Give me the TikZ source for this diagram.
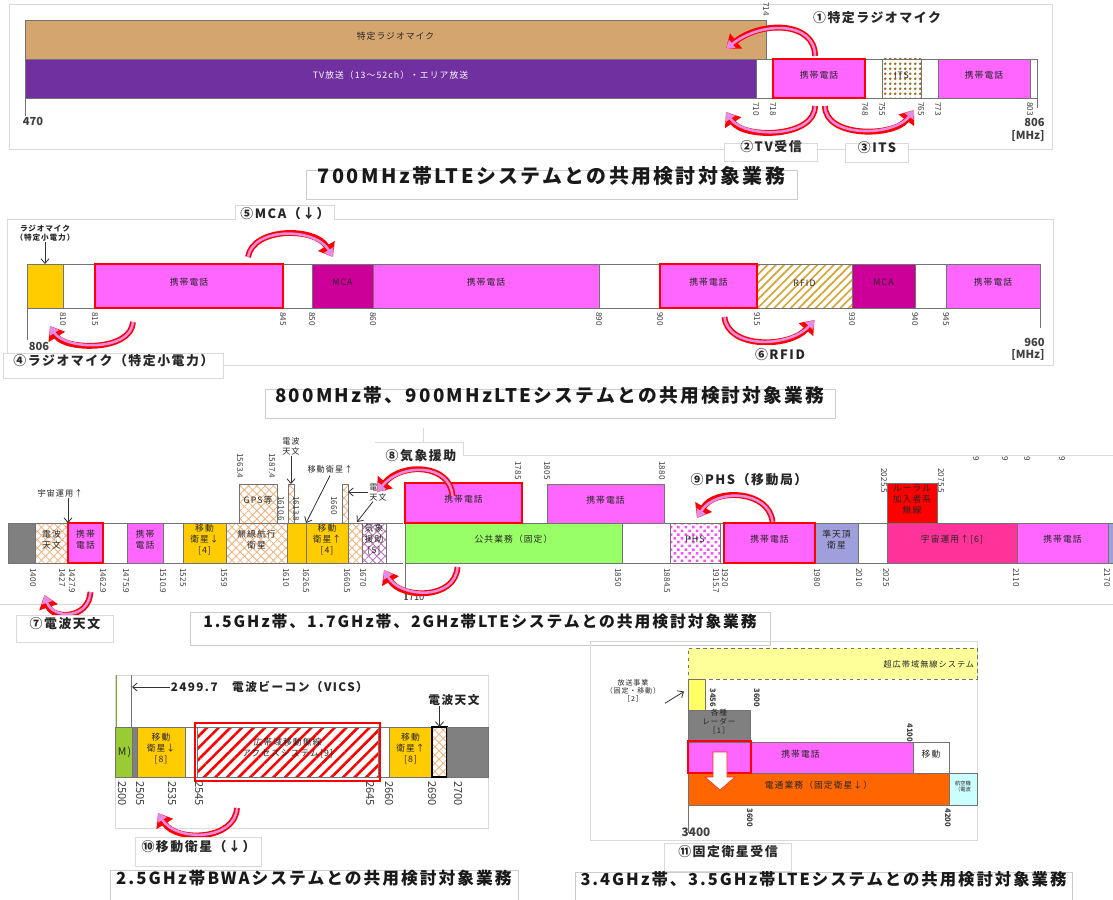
\documentclass[tikz,border=0pt]{standalone}
\usepackage{fontspec}
\setmainfont{Noto Sans CJK JP}
\setsansfont{Noto Sans CJK JP}
\newfontfamily\spaced[LetterSpace=12]{Noto Sans CJK JP}
\usetikzlibrary{arrows.meta, patterns.meta, fit, calc}
\definecolor{phonepink}{HTML}{FF66FF}
\definecolor{mcamag}{HTML}{CC0099}
\definecolor{micbrown}{HTML}{D4A56F}
\definecolor{tvpurple}{HTML}{7030A0}
\definecolor{satyellow}{HTML}{FFCC00}
\definecolor{pubgreen}{HTML}{99FF66}
\definecolor{qzslav}{HTML}{9F9FDC}
\definecolor{spacepink}{HTML}{FF3399}
\definecolor{fssorange}{HTML}{FF6600}
\definecolor{bandgray}{HTML}{808080}
\definecolor{uwbyellow}{HTML}{FFFF99}
\definecolor{bcyellow}{HTML}{FFFF66}
\definecolor{aerocyan}{HTML}{CCFFFF}
\definecolor{bwagreen}{HTML}{99CC33}
\definecolor{crossorange}{HTML}{F2B27A}
\definecolor{itsbrown}{HTML}{9C6B1E}
\definecolor{rfidgold}{HTML}{D4A530}
\definecolor{arcpink}{HTML}{E58AE5}
\tikzset{
  band/.style={draw=black!55, line width=0.5pt, inner sep=0pt, outer sep=0pt, align=center,
    text=black!85, font=\spaced\fontsize{7.5}{9.5}\selectfont},
  phone/.style={band, fill=phonepink},
  crossband/.style={band, preaction={fill=white}, pattern={Hatch[angle=45,distance=5pt,line width=0.7pt]}, pattern color=crossorange},
  wxband/.style={band, preaction={fill=white}, pattern={Hatch[angle=45,distance=5pt,line width=0.7pt]}, pattern color=violet!55},
  itsband/.style={band, preaction={fill=white}, pattern={Dots[distance=4pt,radius=1.3pt]}, pattern color=itsbrown},
  phsband/.style={band, preaction={fill=white}, pattern={Dots[angle=45,distance=4.5pt,radius=1.5pt]}, pattern color=magenta!70},
  rfidband/.style={band, preaction={fill=white}, pattern={Lines[angle=45,distance=5pt,line width=1.4pt]}, pattern color=rfidgold},
  bwaband/.style={band, preaction={fill=white}, pattern={Lines[angle=45,distance=7pt,line width=2.2pt]}, pattern color=red},
  redframe/.style={draw=red, line width=2.2pt},
  tick/.style={rotate=-90, anchor=west, inner sep=1pt, text=black!75, font=\fontsize{7}{7}\selectfont},
  axisline/.style={draw=black!55, line width=0.8pt},
  axlabel/.style={inner sep=1pt, text=black!75, font=\bfseries\fontsize{9.5}{10}\selectfont},
  panelline/.style={draw=black!15, line width=0.6pt},
  callout/.style={inner sep=1pt, text=black!85, font=\spaced\bfseries\fontsize{11}{12}\selectfont},
  tabbox/.style={callout, draw=black!15, fill=white, line width=0.6pt},
  titlebox/.style={draw=black!20, fill=white, line width=0.6pt, inner sep=0pt, text=black!90,
    font=\spaced\bfseries\fontsize{#1}{#1}\selectfont},
  titlebox/.default=15.5,
  note/.style={inner sep=0.5pt, align=center, text=black!85, font=\spaced\fontsize{7}{8.5}\selectfont},
  pointer/.style={draw=black!80, line width=0.7pt, -{Straight Barb[length=4pt,width=7pt]}},
  redarc/.style={draw=arcpink, line width=2.2pt, -{Triangle[length=7pt,width=9pt]},
    preaction={draw=red, line width=5pt, -{Triangle[length=11pt,width=16pt]}}},
}
\begin{document}
\begin{tikzpicture}[x=0.03cm, y=-0.03cm]
  \useasboundingbox (0,0) rectangle (1113,900);
  \fill[white] (0,0) rectangle (1113,900);

  % ---- 700MHz ----
  \draw[panelline] (9,4) rectangle (1052,149);
  \node[band, fill=micbrown, fit={(25,20) (766,59)}] (rmic) {特定ラジオマイク};
  \node[band, fill=tvpurple, text=white, fit={(25,59) (756,98)}] (tv) {TV放送（13～52ch）・エリア放送};
  \node[band, fill=white, fit={(756,59) (773,98)}] (w710) {};
  \node[phone, fit={(773,59) (865,98)}] (p718) {携帯電話};
  \node[band, fill=white, fit={(865,59) (882,98)}] (w748) {};
  \node[itsband, fit={(882,59) (921,98)}] (its) {ITS};
  \node[band, fill=white, fit={(921,59) (938,98)}] (w765) {};
  \node[phone, fit={(938,59) (1030,98)}] (p773) {携帯電話};
  \node[band, fill=white, fit={(1030,59) (1037,98)}] (w803) {};
  \draw[redframe] (p718.south west) rectangle (p718.north east);
  \draw[axisline] (tv.south west) -- ++(0,18);
  \draw[axisline] (w803.south east) -- ++(0,10);
  \node[tick] (ta0) at (766,1) {714};
  \foreach \x/\f [count=\i] in {756/710, 773/718, 865/748, 882/755, 921/765, 938/773, 1030/803}
    \node[tick] (ta\i) at (\x,101) {\f};
  \node[axlabel] (f470) at (33,121) {470};
  \node[axlabel, anchor=east] (f806) at (1046,122) {806};
  \node[axlabel, anchor=east] (mhza) at (1046,136) {[MHz]};

  \draw[redarc] ($(p718.north)+(-4,-3)$) .. controls +(0,-35) and +(35,-28) .. ($(rmic.south east)+(-40,-10)$);
  \draw[redarc] ($(p718.south)+(-4,8)$) .. controls +(0,32) and +(18,27) .. ($(tv.south east)+(-30,14)$);
  \draw[redarc] ($(p718.south)+(6,8)$) .. controls +(0,32) and +(-20,27) .. ($(w765.south west)+(-7,12)$);
  \node[callout] (c1) at (877,18) {①特定ラジオマイク};
  \node[tabbox, fit={(726,145) (816,160)}] (c2) {②TV受信};
  \node[tabbox, fit={(847,145) (907,161)}] (c3) {③ITS};
  \node[titlebox=17, fit={(306,170) (797,199)}] (ttla) {700MHz帯LTEシステムとの共用検討対象業務};

  % ---- 800/900MHz ----
  \draw[panelline] (7,355) -- (7,219) -- (235,219) -- (235,205) -- (334,205) -- (334,219) -- (1053,219) -- (1053,365) -- (222,365);
  \node[band, fill=satyellow, fit={(27,264) (63,308)}] (rm806) {};
  \node[band, fill=white, fit={(63,264) (95,308)}] (w810) {};
  \node[phone, fit={(95,264) (283,308)}] (p815) {携帯電話};
  \node[band, fill=white, fit={(283,264) (312,308)}] (w845) {};
  \node[band, fill=mcamag, fit={(312,264) (373,308)}] (mca850) {MCA};
  \node[phone, fit={(373,264) (599,308)}] (p860) {携帯電話};
  \node[band, fill=white, fit={(599,264) (660,308)}] (w890) {};
  \node[phone, fit={(660,264) (757,308)}] (p900) {携帯電話};
  \node[rfidband, fit={(757,264) (852,308)}] (rfid) {RFID};
  \node[band, fill=mcamag, fit={(852,264) (915,308)}] (mca930) {MCA};
  \node[band, fill=white, fit={(915,264) (946,308)}] (w940) {};
  \node[phone, fit={(946,264) (1040,308)}] (p945) {携帯電話};
  \draw[redframe] (p815.south west) rectangle (p815.north east);
  \draw[redframe] (p900.south west) rectangle (p900.north east);
  \draw[axisline] (rm806.south west) -- ++(0,32);
  \draw[axisline] (p945.south east) -- ++(0,20);
  \foreach \x/\f [count=\i] in {63/810, 95/815, 283/845, 312/850, 373/860, 599/890, 660/900, 757/915, 852/930, 915/940, 946/945}
    \node[tick] (tb\i) at (\x,311) {\f};
  \node[axlabel] (f806b) at (39,346) {806};
  \node[axlabel, anchor=east] (f960) at (1046,342) {960};
  \node[axlabel, anchor=east] (mhzb) at (1046,355) {[MHz]};
  \node[note, font=\spaced\bfseries\fontsize{6.5}{8}\selectfont] (rmlbl) at (45,233) {ラジオマイク\\（特定小電力）};
  \draw[pointer] (rmlbl.south) -- (rmlbl.south |- rm806.north);

  \draw[redarc] ($(p815.north)+(59,-7)$) .. controls +(5,-30) and +(-18,-30) .. ($(mca850.north west)+(21,-7)$);
  \draw[redarc] ($(p815.south)+(-56,14)$) .. controls +(-2,30) and +(15,24) .. ($(rm806.south)+(5,18)$);
  \draw[redarc] ($(p900.south)+(16,9)$) .. controls +(3,32) and +(-25,28) .. ($(rfid.south)+(10,12)$);
  \node[callout] (c5) at (285,214) {⑤MCA（↓）};
  \node[tabbox, fit={(5,355) (222,377)}] (c4) {④ラジオマイク（特定小電力）};
  \node[callout, fill=white, inner sep=3pt] (c6) at (780,355) {⑥RFID};
  \node[titlebox=16, fit={(265,389) (835,418)}] (ttlb) {800MHz帯、900MHzLTEシステムとの共用検討対象業務};

  % ---- 1.5/1.7/2GHz ----
  \draw[panelline] (423,428) -- (423,442);
  \draw[panelline] (375,442) -- (463,442) -- (463,455) -- (1113,455);
  \draw[panelline] (0,604) -- (1113,604);
  \node[band, fill=bandgray, fit={(8,523) (35,563)}] (g1400) {};
  \node[crossband, fit={(35,523) (68,563)}] (ra1400) {電波\\天文};
  \node[phone, fit={(68,523) (103,563)}] (p1427) {携帯\\電話};
  \node[band, fill=white, fit={(103,523) (127,563)}] (w1462) {};
  \node[phone, fit={(127,523) (163,563)}] (p1475) {携帯\\電話};
  \node[band, fill=white, fit={(163,523) (183,563)}] (w1510) {};
  \node[band, fill=satyellow, fit={(183,523) (226,563)}] (ms1525) {移動\\衛星↓\\{[4]}};
  \node[crossband, fit={(226,523) (287,563)}] (rn1559) {無線航行\\衛星};
  \node[band, fill=satyellow, fit={(287,523) (306,563)}] (y1610) {};
  \node[band, fill=satyellow, fit={(306,523) (348,563)}] (ms1626) {移動\\衛星↑\\{[4]}};
  \node[crossband, fit={(348,523) (362,563)}] (ra1660) {};
  \node[wxband, fit={(362,523) (386,563)}] (met1670) {気象\\援助\\{[5]}};
  \draw[band] (met1670.north east) -- ++(17,0);
  \draw[band] (met1670.south east) -- ++(17,0);
  \node[crossband, fit={(239,484) (277,523)}] (gps) {GPS等};
  \node[crossband, fit={(288,484) (294,523)}] (ra1610) {};
  \node[crossband, fit={(342,484) (348,523)}] (ra1660u) {};
  \node[phone, fit={(405,483) (522,523)}] (p1710u) {携帯電話};
  \node[phone, fit={(547,484) (664,523)}] (p1805u) {携帯電話};
  \node[band, fill=pubgreen, fit={(405,523) (622,563)}] (pub1710) {公共業務（固定）};
  \node[band, fill=white, fit={(622,523) (670,563)}] (w1850) {};
  \node[phsband, fit={(670,523) (720,563)}] (phs) {PHS};
  \node[band, fill=white, fit={(720,523) (724,563)}] (w1915) {};
  \node[phone, fit={(724,523) (815,563)}] (p1920) {携帯電話};
  \node[band, fill=qzslav, fit={(815,523) (858,563)}] (qzs) {準天頂\\衛星};
  \node[band, fill=white, fit={(858,523) (887,563)}] (w2010) {};
  \node[band, fill=spacepink, fit={(887,523) (1017,563)}] (sp2025) {宇宙運用↑[6]};
  \node[phone, fit={(1017,523) (1108,563)}] (p2110) {携帯電話};
  \node[band, fill=qzslav, fit={(1108,523) (1113,563)}] (q2170) {};
  \node[band, fill=red, fit={(887,483) (937,523)}] (rural) {ルーラル\\加入者系\\無線};
  \draw[redframe] (p1427.south west) rectangle (p1427.north east);
  \draw[redframe] (p1710u.south west) rectangle (p1710u.north east);
  \draw[redframe] (p1920.south west) rectangle (p1920.north east);
  \draw[axisline] (pub1710.south west) -- ++(0,36);
  \foreach \x/\f [count=\i] in {33/1400, 62/1427, 72/1427.9, 103/1462.9, 126/1475.9, 163/1510.9, 183/1525, 224/1559, 286/1610, 306/1626.5, 347/1660.5, 363/1670, 618/1850, 667/1884.5, 716/1915.7, 725/1920, 817/1980, 859/2010, 886/2025, 1016/2110, 1107/2170}
    \node[tick] (tc\i) at (\x,567) {\f};
  \foreach \x/\y/\f [count=\i] in {240/452/1563.4, 272/452/1587.4, 281/495/1610.6, 296/495/1613.8, 334/495/1660, 518/460/1785, 547/460/1805, 662/460/1880, 884/467/2025.5, 941/467/2075.5, 976/455/9, 1005/455/9, 1027/455/9, 1062/455/9}
    \node[tick] (td\i) at (\x,\y) {\f};
  \node[note, font=\fontsize{8}{8}\selectfont] (f1710) at (414,597) {1710};
  \node[note] (ralbl) at (291,446) {電波\\天文};
  \draw[pointer] (ralbl.south) -- (ralbl.south |- ra1610.north);
  \node[note] (msulbl) at (330,469) {移動衛星↑};
  \draw[pointer] ($(msulbl.south)+(0,2)$) -- (ms1626.north west);
  \node[note] (rablb) at (378,492) {電波\\天文};
  \draw[pointer] (rablb.west) -- (ra1660u.east |- rablb.west);
  \draw[pointer] ($(rablb.south)+(-5,0)$) -- ($(ra1660.north)+(2,-1)$);
  \node[note] (splbl) at (60,493) {宇宙運用↑};
  \draw[pointer] (splbl.south -| p1427.north west) -- (p1427.north west);

  \draw[redarc] ($(p1427.south)+(5,29)$) .. controls +(-2,28) and +(8,24) .. ($(ra1400.south)+(-7,32)$);
  \draw[redarc] ($(p1710u.north)+(-11,13)$) .. controls +(-2,-32) and +(25,-30) .. ($(met1670.north)+(3,-31)$);
  \draw[redarc] ($(pub1710.south)+(-56,4)$) .. controls +(-2,33) and +(17,29) .. ($(met1670.south east)+(-2,7)$);
  \draw[redarc] ($(p1920.north)+(3,-1)$) .. controls +(-3,-32) and +(18,-30) .. ($(phs.north)+(2,-5)$);
  \node[callout, fill=white, inner sep=2pt] (c8) at (421,456) {⑧気象援助};
  \node[callout] (c9) at (749,480) {⑨PHS（移動局）};
  \node[tabbox, fit={(18,617) (112,641)}] (c7) {⑦電波天文};
  \node[titlebox=13.5, fit={(190,612) (770,645)}] (ttlc) {1.5GHz帯、1.7GHz帯、2GHz帯LTEシステムとの共用検討対象業務};

  % ---- 2.5GHz ----
  \draw[panelline] (115,675) rectangle (488,828);
  \draw[draw=bwagreen!80!black, line width=0.8pt] (116,675) -- (116,727);
  \draw[axisline] (131,675) -- (131,727);
  \begin{scope}[every node/.append style={font=\spaced\fontsize{10}{12}\selectfont}]
    \node[band, fill=bwagreen, fit={(115,727) (132,777)}] (gr2500) {};
    \node[band, fill=bandgray, fit={(132,727) (137,777)}] (gl2505) {};
    \node[band, fill=satyellow, fit={(137,727) (185,777)}] (ms2505) {移動\\衛星↓\\{[8]}};
    \node[band, fill=white, fit={(185,727) (197,777)}] (w2535) {};
    \node[bwaband, fit={(197,727) (378,777)}] (bwa) {広帯域移動無線\\アクセスシステム[9]};
    \node[band, fill=white, fit={(378,727) (389,777)}] (w2645) {};
    \node[band, fill=satyellow, fit={(389,727) (432,777)}] (ms2660) {移動\\衛星↑\\{[8]}};
    \node[crossband, line width=1.2pt, draw=black, fit={(432,727) (447,777)}] (ra2690) {};
    \node[band, fill=bandgray, fit={(447,727) (488,777)}] (g2700) {};
  \end{scope}
  \node[note, anchor=east, font=\spaced\fontsize{9}{9}\selectfont] (gtxt) at (gr2500.east) {M)};
  \draw[redframe] ($(bwa.south west)+(-2,4)$) rectangle ($(bwa.north east)+(2,-4)$);
  \foreach \x/\f [count=\i] in {122/2500, 140/2505, 172/2535, 199/2545, 370/2645, 389/2660, 432/2690, 458/2700}
    \node[tick, font=\fontsize{9.5}{9.5}\selectfont] (te\i) at (\x,780) {\f};
  \coordinate (vics) at (132,687);
  \node[note, anchor=west, font=\spaced\bfseries\fontsize{10}{10}\selectfont] (vicslbl) at (170,687) {2499.7　電波ビーコン（VICS）};
  \draw[pointer] (vicslbl.west) -- (vics);
  \node[note, font=\spaced\bfseries\fontsize{10}{10}\selectfont] (ra25lbl) at (454,700) {電波天文};
  \draw[pointer] (ra25lbl.south -| ra2690.north) -- (ra2690.north);
  \draw[redarc] ($(bwa.south west)+(40,31)$) .. controls +(-2,33) and +(18,29) .. ($(ms2505.south)+(-3,36)$);
  \node[tabbox, fit={(137,839) (260,865)}] (c10) {⑩移動衛星（↓）};
  \node[titlebox=14.3, fit={(110,870) (518,900)}] (ttld) {2.5GHz帯BWAシステムとの共用検討対象業務};

  % ---- 3.4/3.5GHz ----
  \draw[panelline] (590,641) rectangle (977,840);
  \node[band, fill=uwbyellow, dashed, fit={(688,648) (977,679)}] (uwb) {};
  \node[note, anchor=east] (uwblbl) at (975,664) {超広帯域無線システム};
  \node[band, fill=bcyellow, fit={(688,679) (705,710)}] (bc3400) {};
  \node[band, fill=bandgray, font=\spaced\fontsize{6.5}{7.5}\selectfont, fit={(688,710) (750,740)}] (radar) {各種\\レーダー\\［1］};
  \node[phone, fit={(688,742) (913,773)}] (p3400) {携帯電話};
  \node[band, fill=white, fit={(913,742) (949,773)}] (mob4100) {移動};
  \node[band, fill=fssorange, fit={(688,773) (949,805)}] (fss) {電通業務（固定衛星↓）};
  \node[band, fill=aerocyan, font=\fontsize{4.5}{5}\selectfont, fit={(949,773) (977,805)}] (aero) {航空機\\（電波};
  \draw[redframe] (p3400.south west) rectangle ($(radar.south east)+(1,1)$);
  \draw[fill=white, draw=red!85, line width=0.5pt] (713,752) -- (727,752) -- (727,777) -- (735,777) -- (720,790) -- (705,777) -- (713,777) -- cycle;
  \draw[axisline] (fss.south west) -- ++(0,28);
  \node[axlabel, font=\bfseries\fontsize{10}{10}\selectfont] (f3400) at (696,832) {3400};
  \foreach \x/\y/\f [count=\i] in {713/687/3456, 757/687/3600, 910/722/4100, 750/807/3600, 948/807/4200}
    \node[tick, font=\bfseries\fontsize{6.5}{6.5}\selectfont] (tf\i) at (\x,\y) {\f};
  \node[note, font=\spaced\fontsize{6}{7}\selectfont] (bclbl) at (633,691) {放送事業\\（固定・移動）\\［2］};
  \draw[pointer] ($(bclbl.south east)+(4,0)$) -- ($(bc3400.west)+(-4,-3)$);
  \node[tabbox, fit={(666,845) (790,870)}] (c11) {⑪固定衛星受信};
  \node[titlebox=14, fit={(575,872) (1072,900)}] (ttle) {3.4GHz帯、3.5GHz帯LTEシステムとの共用検討対象業務};
\end{tikzpicture}
\end{document}
